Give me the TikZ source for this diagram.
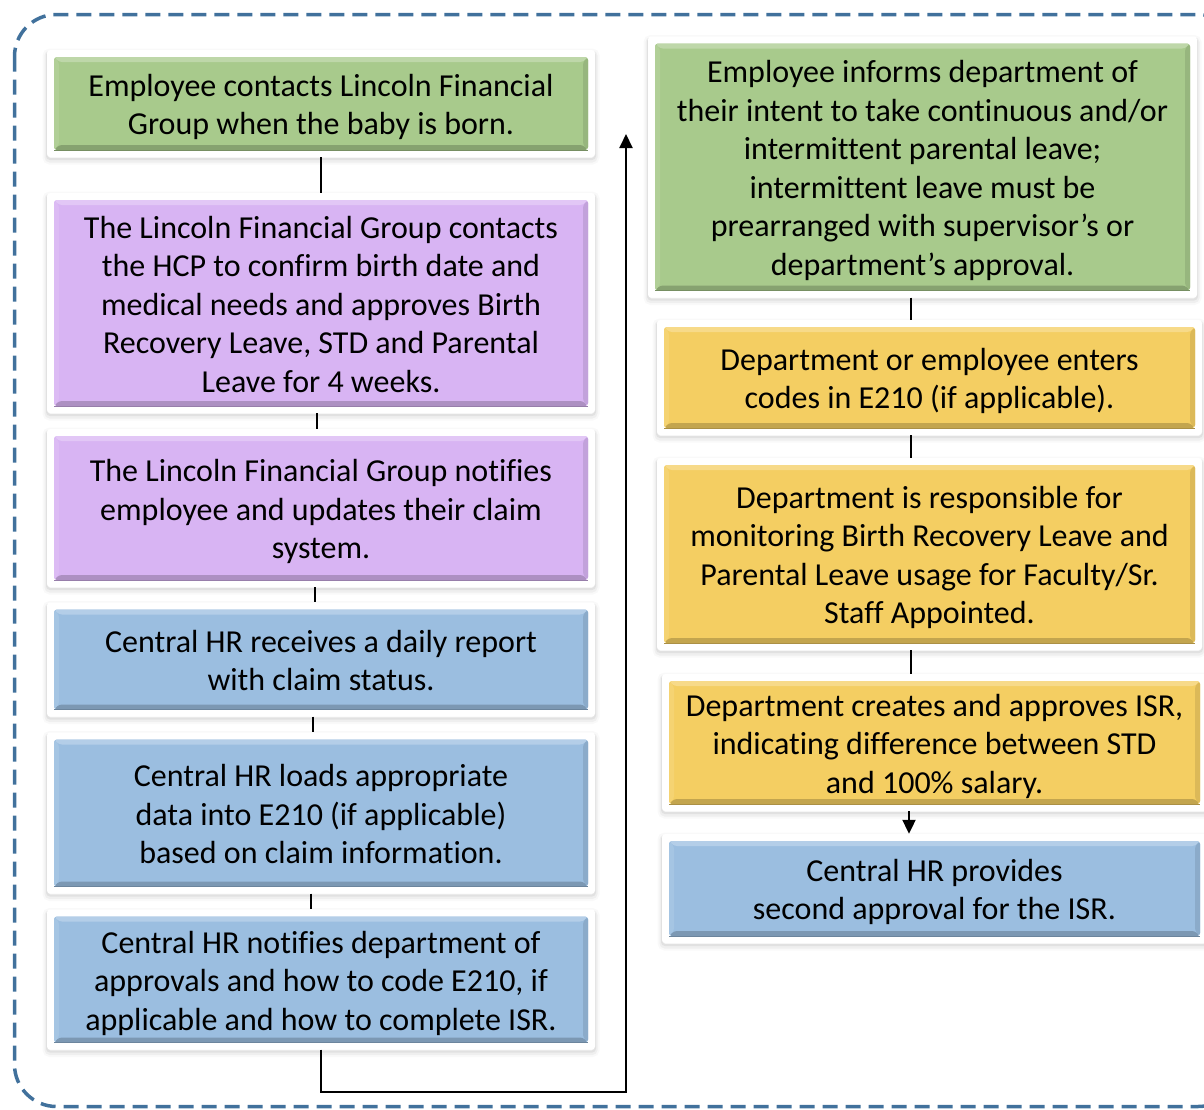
\documentclass[tikz,border=0pt]{standalone}
\usepackage{fontspec}
\setmainfont{Carlito}[Ligatures=NoCommon]
\usetikzlibrary{arrows.meta,calc}

\definecolor{grn}{HTML}{A8CA8C}
\definecolor{lav}{HTML}{D8B4F3}
\definecolor{sky}{HTML}{9BBEE0}
\definecolor{sun}{HTML}{F4CE62}
\definecolor{frameblue}{HTML}{41719C}

% fixed height of the first text line in a card
\newcommand\firstline{\rule{0pt}{34pt}}

% coloured bevelled panel inside a white card
\newcommand\bevelpanel[1]{%
  \coordinate (pNW) at ([shift={(7pt,-7pt)}]path picture bounding box.north west);
  \coordinate (pSE) at ([shift={(-7pt,7pt)}]path picture bounding box.south east);
  \coordinate (pNE) at (pNW -| pSE);
  \coordinate (pSW) at (pSE -| pNW);
  \fill[#1] (pNW) rectangle (pSE);
  \fill[#1!75!white] (pNW) -- (pNE) -- ([shift={(-5pt,-5pt)}]pNE) -- ([shift={(5pt,-5pt)}]pNW) -- cycle;
  \fill[#1!90!white] (pNW) -- ([shift={(5pt,-5pt)}]pNW) -- ([shift={(5pt,5pt)}]pSW) -- (pSW) -- cycle;
  \fill[#1!80!black] (pSW) -- (pSE) -- ([shift={(-5pt,5pt)}]pSE) -- ([shift={(5pt,5pt)}]pSW) -- cycle;
  \fill[#1!90!black] (pNE) -- (pSE) -- ([shift={(-5pt,5pt)}]pSE) -- ([shift={(-5pt,-5pt)}]pNE) -- cycle;
  \draw[#1!70!black, line width=0.8pt] (pSW) -- (pSE);
}

\tikzset{
  softshadow/.style={
    preaction={draw=black, line width=9pt, opacity=0.025, transform canvas={yshift=-3pt}},
    preaction={draw=black, line width=5pt, opacity=0.04, transform canvas={yshift=-3pt}},
    preaction={draw=black, line width=2pt, opacity=0.06, transform canvas={yshift=-2pt}}},
  card/.style={rectangle, rounded corners=3pt, fill=white, inner sep=0pt,
    align=center, font=\fontsize{32}{38.5}\selectfont, softshadow,
    execute at end node={\rule[-10pt]{0pt}{0pt}},
    path picture={\bevelpanel{#1}}},
  link/.style={line width=2pt, black},
  arrowlink/.style={line width=2pt, black, -{Triangle[length=14pt,width=13pt]}},
}

\begin{document}
\begin{tikzpicture}[x=1pt,y=-1pt]
\useasboundingbox (0,0) rectangle (1204,1109);

% dashed surround
\draw[frameblue, line width=3.5pt, dash pattern=on 15pt off 8pt, rounded corners=42pt]
  (14.5,14.5) rectangle (1240,1106.5);

% left column
\node[card=grn, minimum width=548pt, minimum height=107pt] (b1) at (321,103.5)
  {\firstline Employee contacts Lincoln Financial\\Group when the baby is born.};
\node[card=lav, minimum width=548pt, minimum height=220pt] (b2) at (321,303)
  {\firstline The Lincoln Financial Group contacts\\the HCP to confirm birth date and\\medical needs and approves Birth\\Recovery Leave, STD and Parental\\Leave for 4 weeks.};
\node[card=lav, minimum width=548pt, minimum height=158pt] (b3) at (321,508)
  {\firstline The Lincoln Financial Group notifies\\employee and updates their claim\\system.};
\node[card=sky, minimum width=548pt, minimum height=114pt] (b4) at (321,659.5)
  {\firstline Central HR receives a daily report\\with claim status.};
\node[card=sky, minimum width=548pt, minimum height=161pt] (b5) at (321,813)
  {\firstline Central HR loads appropriate\\data into E210 (if applicable)\\based on claim information.};
\node[card=sky, minimum width=548pt, minimum height=140pt] (b6) at (321,979.5)
  {\firstline Central HR notifies department of\\approvals and how to code E210, if\\applicable and how to complete ISR.};

% right column
\node[card=grn, minimum width=549pt, minimum height=261pt] (r1) at (922.5,167)
  {\firstline Employee informs department of\\their intent to take continuous and/or\\intermittent parental leave;\\intermittent leave must be\\prearranged with supervisor’s or\\department’s approval.};
\node[card=sun, minimum width=545pt, minimum height=115pt] (r2) at (929.5,377.5)
  {\firstline Department or employee enters\\codes in E210 (if applicable).};
\node[card=sun, minimum width=545pt, minimum height=192pt] (r3) at (929.5,554)
  {\firstline Department is responsible for\\monitoring Birth Recovery Leave and\\Parental Leave usage for Faculty/Sr.\\Staff Appointed.};
\node[card=sun, minimum width=545pt, minimum height=137pt] (r4) at (934.5,742.5)
  {\firstline Department creates and approves ISR,\\indicating difference between STD\\and 100\% salary.};
\node[card=sky, minimum width=545pt, minimum height=109pt] (r5) at (934.5,888.5)
  {\firstline Central HR provides\\second approval for the ISR.};

% left column links
\draw[link] (b1.south) -- (b2.north);
\draw[link] ([xshift=-4pt]b2.south) -- ([xshift=-4pt]b3.north);
\draw[link] ([xshift=-6pt]b3.south) -- ([xshift=-6pt]b4.north);
\draw[link] ([xshift=-8pt]b4.south) -- ([xshift=-8pt]b5.north);
\draw[link] ([xshift=-10pt]b5.south) -- ([xshift=-10pt]b6.north);

% return path to the right column
\coordinate (turn) at (626,1092);
\coordinate (ret) at (626,134);
\draw[arrowlink] (b6.south) |- (turn) -- (ret);

% right column links
\draw[link] (r1.south -| 911,0) -- (r2.north -| 911,0);
\draw[link] (r2.south -| 911,0) -- (r3.north -| 911,0);
\draw[link] (r3.south -| 911,0) -- (r4.north -| 911,0);
\draw[arrowlink] (r4.south -| 909,0) -- (r5.north -| 909,0);
\end{tikzpicture}
\end{document}
